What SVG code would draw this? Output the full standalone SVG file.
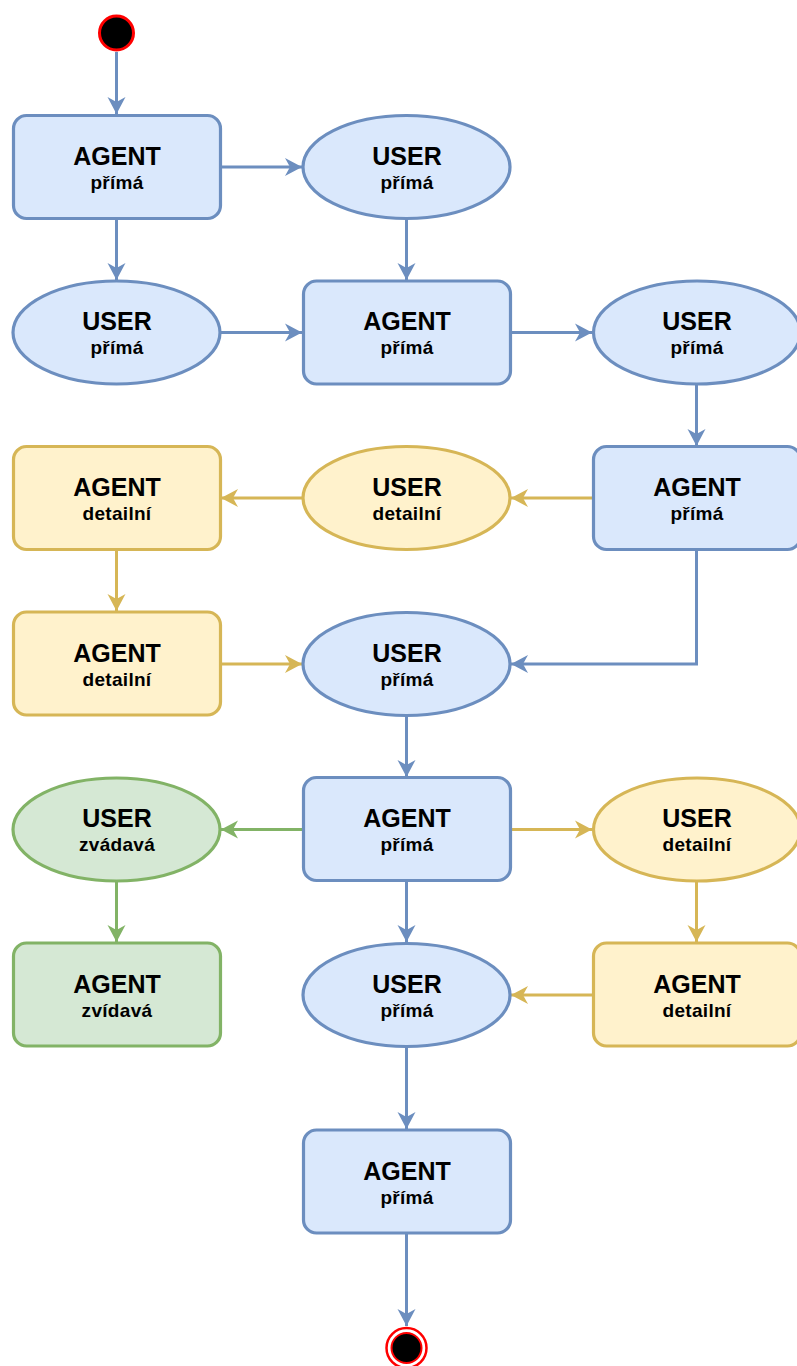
<svg xmlns="http://www.w3.org/2000/svg" width="797" height="1366" viewBox="0 0 797 1366">
<style>
.b{fill:#dae8fc;stroke:#6c8ebf;stroke-width:3.2}
.y{fill:#fff2cc;stroke:#d6b656;stroke-width:3.2}
.g{fill:#d5e8d4;stroke:#82b366;stroke-width:3.2}
.t1{font-family:"Liberation Sans",Arial,sans-serif;font-weight:bold;font-size:25px;text-anchor:middle;fill:#000}
.t2{font-family:"Liberation Sans",Arial,sans-serif;font-weight:bold;font-size:19px;letter-spacing:0.3px;text-anchor:middle;fill:#000}
.cb{fill:none;stroke:#6c8ebf;stroke-width:3;marker-end:url(#ab)}
.cy{fill:none;stroke:#d6b656;stroke-width:3;marker-end:url(#ay)}
.cg{fill:none;stroke:#82b366;stroke-width:3;marker-end:url(#ag)}
</style>
<defs>
<marker id="ab" markerUnits="userSpaceOnUse" viewBox="-18 -10 19 20" refX="0" refY="0" markerWidth="19" markerHeight="20" orient="auto"><path d="M0,0 L-17,-9 L-12,0 L-17,9 Z" fill="#6c8ebf"/></marker>
<marker id="ay" markerUnits="userSpaceOnUse" viewBox="-18 -10 19 20" refX="0" refY="0" markerWidth="19" markerHeight="20" orient="auto"><path d="M0,0 L-17,-9 L-12,0 L-17,9 Z" fill="#d6b656"/></marker>
<marker id="ag" markerUnits="userSpaceOnUse" viewBox="-18 -10 19 20" refX="0" refY="0" markerWidth="19" markerHeight="20" orient="auto"><path d="M0,0 L-17,-9 L-12,0 L-17,9 Z" fill="#82b366"/></marker>
</defs>
<rect width="797" height="1366" fill="#fff"/>
<g id="connectors">
<path class="cb" d="M116.5,52 V114"/>
<path class="cb" d="M221,167 H302"/>
<path class="cb" d="M116.5,219 V280"/>
<path class="cb" d="M406.5,219 V280"/>
<path class="cb" d="M221,332.5 H302"/>
<path class="cb" d="M511,332.5 H592"/>
<path class="cb" d="M696.5,385 V446"/>
<path class="cy" d="M592,498 H511"/>
<path class="cy" d="M302,498 H221"/>
<path class="cy" d="M116.5,550 V611"/>
<path class="cy" d="M221,664 H302"/>
<path class="cb" d="M696.5,550 V664 H511"/>
<path class="cb" d="M406.5,716 V777"/>
<path class="cg" d="M302,829.5 H221"/>
<path class="cg" d="M116.5,881 V942"/>
<path class="cy" d="M511,829.5 H592"/>
<path class="cy" d="M696.5,881 V942"/>
<path class="cy" d="M592,995 H511"/>
<path class="cb" d="M406.5,881 V942"/>
<path class="cb" d="M406.5,1047 V1129"/>
<path class="cb" d="M406.5,1233 V1326"/>
</g>
<g id="start"><circle cx="116.5" cy="33" r="17" fill="#000" stroke="#ff0000" stroke-width="3"/></g>
<g id="a1"><rect class="b" x="13.5" y="115.5" width="207" height="103" rx="13"/><text class="t1" x="117" y="164.5">AGENT</text><text class="t2" x="117" y="188.5">přímá</text></g>
<g id="u1"><ellipse class="b" cx="406.5" cy="167" rx="103.5" ry="51.5"/><text class="t1" x="407" y="164.5">USER</text><text class="t2" x="407" y="188.5">přímá</text></g>
<g id="u2"><ellipse class="b" cx="116.5" cy="332.5" rx="103.5" ry="51.5"/><text class="t1" x="117" y="330">USER</text><text class="t2" x="117" y="354">přímá</text></g>
<g id="a2"><rect class="b" x="303.5" y="281" width="207" height="103" rx="13"/><text class="t1" x="407" y="330">AGENT</text><text class="t2" x="407" y="354">přímá</text></g>
<g id="u3"><ellipse class="b" cx="697" cy="332.5" rx="103.5" ry="51.5"/><text class="t1" x="697" y="330">USER</text><text class="t2" x="697" y="354">přímá</text></g>
<g id="a4"><rect class="y" x="13.5" y="446.5" width="207" height="103" rx="13"/><text class="t1" x="117" y="496">AGENT</text><text class="t2" x="117" y="520">detailní</text></g>
<g id="u4"><ellipse class="y" cx="406.5" cy="498" rx="103.5" ry="51.5"/><text class="t1" x="407" y="496">USER</text><text class="t2" x="407" y="520">detailní</text></g>
<g id="a3"><rect class="b" x="593.5" y="446.5" width="207" height="103" rx="13"/><text class="t1" x="697" y="496">AGENT</text><text class="t2" x="697" y="520">přímá</text></g>
<g id="a5"><rect class="y" x="13.5" y="612" width="207" height="103" rx="13"/><text class="t1" x="117" y="661.5">AGENT</text><text class="t2" x="117" y="685.5">detailní</text></g>
<g id="u5"><ellipse class="b" cx="406.5" cy="664" rx="103.5" ry="51.5"/><text class="t1" x="407" y="661.5">USER</text><text class="t2" x="407" y="685.5">přímá</text></g>
<g id="u6"><ellipse class="g" cx="116.5" cy="829.5" rx="103.5" ry="51.5"/><text class="t1" x="117" y="827">USER</text><text class="t2" x="117" y="851">zvádavá</text></g>
<g id="a6"><rect class="b" x="303.5" y="777.5" width="207" height="103" rx="13"/><text class="t1" x="407" y="827">AGENT</text><text class="t2" x="407" y="851">přímá</text></g>
<g id="u7"><ellipse class="y" cx="697" cy="829.5" rx="103.5" ry="51.5"/><text class="t1" x="697" y="827">USER</text><text class="t2" x="697" y="851">detailní</text></g>
<g id="a7"><rect class="g" x="13.5" y="943" width="207" height="103" rx="13"/><text class="t1" x="117" y="992.5">AGENT</text><text class="t2" x="117" y="1016.5">zvídavá</text></g>
<g id="u8"><ellipse class="b" cx="406.5" cy="995" rx="103.5" ry="51.5"/><text class="t1" x="407" y="992.5">USER</text><text class="t2" x="407" y="1016.5">přímá</text></g>
<g id="a8"><rect class="y" x="593.5" y="943" width="207" height="103" rx="13"/><text class="t1" x="697" y="992.5">AGENT</text><text class="t2" x="697" y="1016.5">detailní</text></g>
<g id="a9"><rect class="b" x="303.5" y="1130" width="207" height="103" rx="13"/><text class="t1" x="407" y="1179.5">AGENT</text><text class="t2" x="407" y="1203.5">přímá</text></g>
<g id="end"><circle cx="406.5" cy="1348" r="20" fill="#fff" stroke="#ff0000" stroke-width="2.5"/><circle cx="406.5" cy="1348" r="15" fill="#000" stroke="#ff0000" stroke-width="2"/></g>
</svg>
